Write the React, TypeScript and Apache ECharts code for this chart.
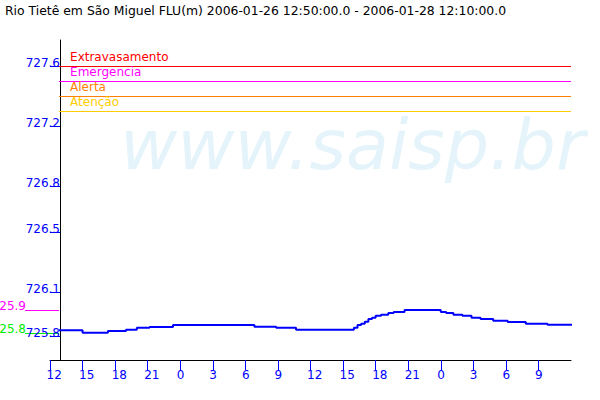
import React, { useEffect, useRef } from "react";
import * as echarts from "echarts";

const TITLE = "Rio Tietê em São Miguel FLU(m) 2006-01-26 12:50:00.0 - 2006-01-28 12:10:00.0";
const WATERMARK = "www.saisp.br";
const AXIS_START = "2006-01-26 12:00";
const AXIS_END = "2006-01-28 12:00";
const DATA_END = "2006-01-28 12:10";

const times = [
  "2006-01-26 12:50", "2006-01-26 15:00", "2006-01-26 17:20", "2006-01-26 19:00",
  "2006-01-26 20:00", "2006-01-26 21:10", "2006-01-26 23:20", "2006-01-27 06:50",
  "2006-01-27 08:50", "2006-01-27 10:40", "2006-01-27 16:00", "2006-01-27 16:20",
  "2006-01-27 16:40", "2006-01-27 17:00", "2006-01-27 17:20", "2006-01-27 17:40",
  "2006-01-27 18:00", "2006-01-27 18:30", "2006-01-27 19:10", "2006-01-27 19:40",
  "2006-01-27 20:40", "2006-01-28 00:00", "2006-01-28 00:30", "2006-01-28 01:10",
  "2006-01-28 02:00", "2006-01-28 02:50", "2006-01-28 03:40", "2006-01-28 04:50",
  "2006-01-28 06:10", "2006-01-28 07:50", "2006-01-28 09:50",
];
const levels = [
  725.838, 725.822, 725.833, 725.842,
  725.855, 725.86, 725.874, 725.862,
  725.855, 725.842, 725.855, 725.873,
  725.882, 725.895, 725.913, 725.922,
  725.935, 725.942, 725.953, 725.96,
  725.973, 725.96, 725.953, 725.942,
  725.935, 725.922, 725.913, 725.902,
  725.893, 725.882, 725.875,
];

const thresholdNames = ["Extravasamento", "Emergencia", "Alerta", "Atenção"];
const thresholdValues = [727.6, 727.5, 727.4, 727.3];
const thresholdColors = ["#ff0000", "#ff00ff", "#ff8000", "#ffcc00"];

const yTickValues = [725.8, 726.09, 726.49, 726.8, 727.2, 727.6];
const xTickHours = [0, 3, 6, 9, 12, 15, 18, 21, 24, 27, 30, 33, 36, 39, 42, 45];
const xTickLabels = ["12", "15", "18", "21", "0", "3", "6", "9", "12", "15", "18", "21", "0", "3", "6", "9"];

const FONT = "DejaVu Sans";

const toMs = (s: string) => {
  const m = s.match(/(\d+)-(\d+)-(\d+) (\d+):(\d+)/)!;
  return Date.UTC(+m[1], +m[2] - 1, +m[3], +m[4], +m[5]);
};
const T0 = toMs(AXIS_START);
const toHours = (s: string) => (toMs(s) - T0) / 3600000;

export default function App() {
  const ref = useRef<HTMLDivElement>(null);
  useEffect(() => {
    const chart = echarts.init(ref.current!, undefined, { renderer: "svg" });
    const startH = toHours(times[0]);
    const endH = toHours(AXIS_END);
    const data = times.map((t, i) => [toHours(t), levels[i]]);
    data.push([toHours(DATA_END), levels[levels.length - 1]]);

    const watermark = {
      type: "text",
      left: 120,
      top: 110,
      z: 0,
      silent: true,
      style: {
        text: WATERMARK,
        fill: "#e5f4fb",
        font: `italic 70px "${FONT}"`,
      },
    };

    chart.setOption({
      animation: false,
      title: {
        text: TITLE,
        left: 5,
        top: 4,
        padding: 0,
        textStyle: { fontSize: 12.4, fontWeight: "normal", color: "#000", fontFamily: FONT },
      },
      grid: { left: 50, right: 29, top: 40, bottom: 40 },
      xAxis: {
        type: "value",
        min: 0,
        max: endH,
        axisLine: { lineStyle: { color: "#000", width: 1 } },
        axisTick: { length: 10, lineStyle: { color: "#0000ff" }, customValues: xTickHours },
        axisLabel: {
          customValues: xTickHours,
          formatter: (v: number) => xTickLabels[xTickHours.indexOf(Math.round(v))] ?? "",
          color: "#0000ff",
          fontSize: 12,
          fontFamily: FONT,
          margin: 9,
          align: "left",
          padding: [0, 0, 0, -3.5],
        },
        splitLine: { show: false },
      },
      yAxis: {
        type: "value",
        min: 725.64,
        max: 727.7733,
        offset: -10,
        axisLine: { show: true, lineStyle: { color: "#000", width: 1 } },
        axisTick: { show: true, length: 10, lineStyle: { color: "#0000ff" }, customValues: yTickValues },
        axisLabel: {
          customValues: yTickValues,
          formatter: (v: number) => v.toFixed(1),
          color: "#0000ff",
          fontSize: 12,
          fontFamily: FONT,
          margin: 0,
          verticalAlign: "bottom",
          padding: [0, 0, -3, 0],
        },
        splitLine: { show: false },
      },
      series: [
        {
          type: "line",
          step: "end",
          data,
          showSymbol: false,
          symbol: "none",
          lineStyle: { color: "#0000ff", width: 2 },
          z: 3,
          markLine: {
            silent: true,
            symbol: ["none", "none"],
            animation: false,
            data: thresholdValues.map((v, i) => [
              {
                name: thresholdNames[i],
                coord: [startH, v],
                lineStyle: { color: thresholdColors[i], width: 1, type: "solid" },
                label: {
                  show: true,
                  formatter: "{b}",
                  position: "insideStartTop",
                  distance: [11, 3],
                  color: thresholdColors[i],
                  fontSize: 12,
                  fontFamily: FONT,
                },
              },
              { coord: [endH, v] },
            ]),
          },
        },
      ],
      graphic: [watermark],
    });

    const maxV = Math.max(...levels);
    const minV = Math.min(...levels);
    const yMaxPx = chart.convertToPixel({ yAxisIndex: 0 }, maxV) as number;
    const yMinPx = chart.convertToPixel({ yAxisIndex: 0 }, minV) as number;
    const axisX = (chart.convertToPixel({ xAxisIndex: 0 }, startH) as number);
    const marker = (y: number, val: number, color: string) => [
      {
        type: "line",
        silent: true,
        shape: { x1: 25, y1: Math.round(y) + 0.5, x2: axisX, y2: Math.round(y) + 0.5 },
        style: { stroke: color, lineWidth: 1 },
      },
      {
        type: "text",
        silent: true,
        x: 26,
        y: Math.round(y) + 2,
        style: {
          text: (Math.floor(val * 10) / 10).toFixed(1),
          fill: color,
          font: `12px "${FONT}"`,
          textAlign: "right",
          textVerticalAlign: "bottom",
        },
      },
    ];
    chart.setOption({
      graphic: [watermark, ...marker(yMaxPx, maxV, "#ff00ff"), ...marker(yMinPx, minV, "#00ee00")],
    });

    return () => chart.dispose();
  }, []);
  return <div ref={ref} style={{ width: 600, height: 400, position: "absolute", left: 0, top: 0 }} />;
}
